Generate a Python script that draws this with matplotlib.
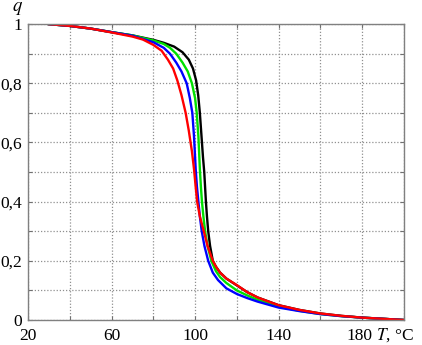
import matplotlib
matplotlib.use('Agg')
import matplotlib.pyplot as plt
import matplotlib.transforms as mtransforms

plt.rcParams['font.family'] = ['Liberation Serif', 'DejaVu Serif']
plt.rcParams['mathtext.fontset'] = 'stix'

# temperature (deg C) and q for each curve
black_T = [30, 40, 50, 60, 70, 80, 85, 90, 94, 97, 99, 100.5, 101.5, 102.3, 103, 103.8, 104.4,
           104.8, 105.2, 105.7, 106.3, 107.2, 108.5, 110, 112, 115, 120, 125, 130, 140, 150,
           160, 170, 180, 190, 200]
black_q = [1.0, 0.994, 0.985, 0.973, 0.962, 0.947, 0.937, 0.924, 0.905, 0.88, 0.85, 0.81, 0.76,
           0.70, 0.63, 0.55, 0.50, 0.45, 0.40, 0.35, 0.30, 0.25, 0.20, 0.18, 0.16, 0.14, 0.117,
           0.094, 0.076, 0.050, 0.034, 0.022, 0.014, 0.008, 0.004, 0.0]

green_T = [30, 40, 50, 60, 70, 80, 85, 88, 91, 94, 96.5, 98.5, 100, 100.8, 101.6, 102.3, 102.8,
           103.3, 104, 104.8, 106, 107.8, 110, 112, 115, 120, 125, 130, 140, 150, 160, 170,
           180, 190, 200]
green_q = [1.0, 0.994, 0.985, 0.973, 0.962, 0.945, 0.933, 0.92, 0.90, 0.87, 0.84, 0.80, 0.75,
           0.70, 0.62, 0.51, 0.45, 0.40, 0.35, 0.30, 0.25, 0.20, 0.165, 0.145, 0.125, 0.10,
           0.083, 0.068, 0.045, 0.031, 0.020, 0.013, 0.008, 0.004, 0.0]

blue_T = [30, 40, 50, 60, 70, 80, 85, 88, 91, 93.5, 96, 97.5, 98.7, 99.5, 100.3, 100.9, 101.6,
          102.3, 103.2, 104.5, 106.3, 108.5, 111, 115, 120, 125, 130, 140, 150, 160, 170, 180,
          190, 200]
blue_q = [1.0, 0.994, 0.985, 0.973, 0.961, 0.939, 0.92, 0.90, 0.87, 0.84, 0.80, 0.75, 0.70,
          0.62, 0.51, 0.45, 0.40, 0.35, 0.30, 0.25, 0.20, 0.16, 0.135, 0.107, 0.088, 0.074,
          0.062, 0.042, 0.030, 0.020, 0.013, 0.008, 0.004, 0.0]

red_T = [30, 40, 50, 60, 70, 75, 80, 84, 87, 89.5, 91.5, 93.5, 95.5, 97, 98.5, 99.5, 100.3, 101,
         102.3, 104.2, 106, 108.5, 110, 112, 115, 120, 125, 130, 140, 150, 160, 170, 180, 190, 200]
red_q = [1.0, 0.994, 0.985, 0.972, 0.958, 0.948, 0.93, 0.91, 0.88, 0.85, 0.81, 0.76, 0.70, 0.64,
         0.57, 0.51, 0.45, 0.40, 0.35, 0.30, 0.25, 0.20, 0.18, 0.16, 0.14, 0.118, 0.094, 0.076,
         0.050, 0.034, 0.022, 0.014, 0.008, 0.004, 0.0]

x_labels = ['20', '', '60', '', '100', '', '140', '', '180', '']
y_labels = ['0', '', '0,2', '', '0,4', '', '0,6', '', '0,8', '', '1']

fig = plt.figure(figsize=(4.22, 3.45), dpi=100)
ax = fig.add_axes([0.0664, 0.0725, 0.8906, 0.8575])

ax.plot(black_T, black_q, color='black', lw=1.7)
ax.plot(green_T, green_q, color='#00e000', lw=1.7)
ax.plot(blue_T, blue_q, color='#0000ff', lw=1.7)
ax.plot(red_T, red_q, color='#ff0000', lw=1.7)

ax.set_xlim(20, 200)
ax.set_ylim(0, 1)
ax.set_xticks(range(20, 201, 20))
ax.set_xticklabels(x_labels)
ax.set_yticks([i / 10 for i in range(11)])
ax.set_yticklabels(y_labels)
ax.grid(True, color='#909090', linestyle=(0, (1, 1.5)), linewidth=0.9)
ax.tick_params(direction='in', length=3, color='#707070', labelsize=12.5,
               top=True, right=True)
ax.tick_params(axis='x', pad=6)
ax.tick_params(axis='y', pad=4)
for s in ax.spines.values():
    s.set_color('#808080')
    s.set_linewidth(1.0)

# "180" sits a little left of its tick in the reference
lbl = ax.get_xticklabels()[8]
lbl.set_transform(lbl.get_transform() + mtransforms.ScaledTranslation(-3 / 100, 0, fig.dpi_scale_trans))

ax.text(-0.029, 1.054, '$q$', transform=ax.transAxes, fontsize=13.5, ha='center', va='center')
ax.text(0.925, -0.043, '$T$, °C', transform=ax.transAxes, fontsize=12.5, ha='left',
        va='center_baseline')

plt.savefig('out.png', dpi=100)
